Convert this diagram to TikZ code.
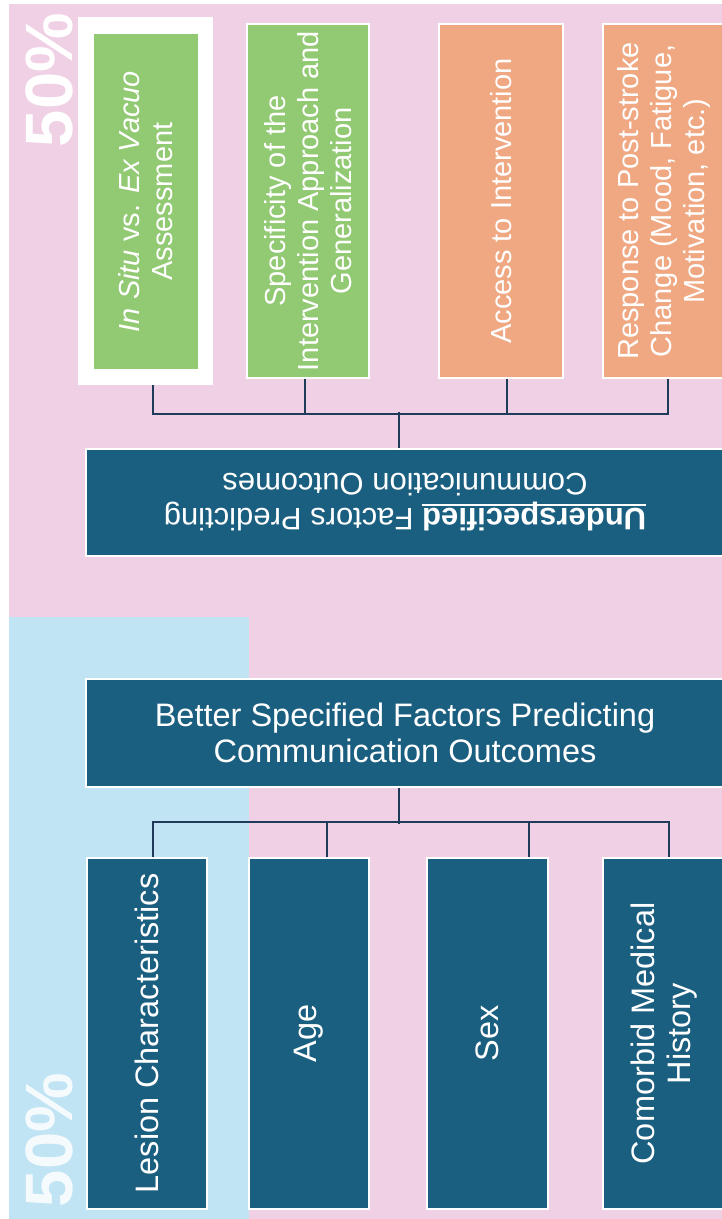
\documentclass[tikz,border=0pt]{standalone}
\usepackage{fontspec}
\setmainfont{Liberation Sans}
\usetikzlibrary{calc}

\definecolor{bgpink}{HTML}{F0D0E4}
\definecolor{bgblue}{HTML}{C0E4F4}
\definecolor{navy}{HTML}{1A5E80}
\definecolor{leaf}{HTML}{92C973}
\definecolor{peach}{HTML}{F0A882}
\definecolor{wire}{HTML}{1E3C5A}

% thick underline for the emphasised heading word
\newcommand{\thickul}[1]{\setbox0\hbox{#1}\rlap{\rule[-4.5pt]{\wd0}{1.8pt}}\box0\relax}

\tikzset{
  factor/.style={draw=white, line width=1.2pt, inner sep=0pt},
  vtext/.style={rotate=90, text=white, align=center, inner sep=0pt},
  small/.style={font=\fontsize{29}{33}\selectfont},
  large/.style={font=\fontsize{32.5}{35.5}\selectfont},
  wire/.style={draw=wire, line width=2pt},
  pct/.style={rotate=90, anchor=base, inner sep=0pt,
    font=\fontsize{67}{67}\selectfont\bfseries}
}

\begin{document}
\begin{tikzpicture}[x=1pt, y=-1pt]
  \useasboundingbox (0,0) rectangle (722,1219);

  % background panels
  \fill[white] (0,0) rectangle (722,1219);
  \fill[bgpink] (9,4) rectangle (722,1219);
  \fill[bgblue] (9,617) rectangle (249,1219);

  % percentage labels
  \node[pct, text=white] (ptop) at (72,80) {50\%};
  \node[pct, text=white, opacity=0.85] (pbot) at (72,1140) {50\%};

  % underspecified factors (top row)
  \node[fill=white, minimum width=135, minimum height=368, inner sep=0pt] (frame) at (145.5,201) {};
  \node[factor, fill=leaf, minimum width=106, minimum height=337] (b1) at (146,201.5) {};
  \node[factor, fill=leaf, minimum width=122, minimum height=354] (b2) at (308,201) {};
  \node[factor, fill=peach, minimum width=124, minimum height=354] (b3) at (501,201) {};
  \node[factor, fill=peach, minimum width=122, minimum height=354] (b4) at (664,201) {};

  \node[vtext, small] (t1) at (b1.center) {\textit{In Situ} vs. \textit{Ex Vacuo}\\Assessment};
  \node[vtext, small] (t2) at (b2.center) {Specificity of the\\Intervention Approach and\\Generalization};
  \node[vtext, small] (t3) at (b3.center) {Access to Intervention};
  \node[vtext, small] (t4) at (b4.center) {Response to Post-stroke\\Change (Mood, Fatigue,\\Motivation, etc.)};

  \node[factor, fill=navy, minimum width=638, minimum height=107] (under) at (405,502.5) {};
  \node[rotate=180, text=white, align=center, inner sep=0pt,
        font=\fontsize{31}{35}\selectfont] (undert) at (under.center)
        {\thickul{\textbf{Underspecified}} Factors Predicting\\Communication Outcomes};

  % better specified factors (bottom row)
  \node[factor, fill=navy, minimum width=638, minimum height=108] (better) at (405,733) {};
  \node[large, text=white, align=center, inner sep=0pt] (bettert) at (better.center)
        {Better Specified Factors Predicting\\Communication Outcomes};

  \node[factor, fill=navy, minimum width=120, minimum height=351] (lesion) at (147,1033.5) {};
  \node[factor, fill=navy, minimum width=120, minimum height=351] (age) at (309,1033.5) {};
  \node[factor, fill=navy, minimum width=121, minimum height=351] (sex) at (487.5,1033.5) {};
  \node[factor, fill=navy, minimum width=122, minimum height=351] (comorb) at (664,1033.5) {};

  \node[vtext, large] (t5) at (lesion.center) {Lesion Characteristics};
  \node[vtext, large] (t6) at (age.center) {Age};
  \node[vtext, large] (t7) at (sex.center) {Sex};
  \node[vtext, large] (t8) at (comorb.center) {Comorbid Medical\\History};

  % connectors, top tree
  \draw[wire] ($(frame.south)+(7.5,0)$) |- ($(b4.south)+(4,35)$) -- ($(b4.south)+(4,0)$);
  \draw[wire] ($(b2.south)+(-3,0)$) -- ++(0,35);
  \draw[wire] ($(b3.south)+(6,0)$) -- ++(0,35);
  \draw[wire] ($(under.north)+(-6,0)$) -- ++(0,-36);

  % connectors, bottom tree
  \draw[wire] ($(better.south)+(-6,0)$) -- ++(0,36);
  \draw[wire] ($(lesion.north)+(6,0)$) |- ($(comorb.north)+(5,-35)$) -- ($(comorb.north)+(5,0)$);
  \draw[wire] ($(age.north)+(18,0)$) -- ++(0,-35);
  \draw[wire] ($(sex.north)+(41.5,0)$) -- ++(0,-35);
\end{tikzpicture}
\end{document}
